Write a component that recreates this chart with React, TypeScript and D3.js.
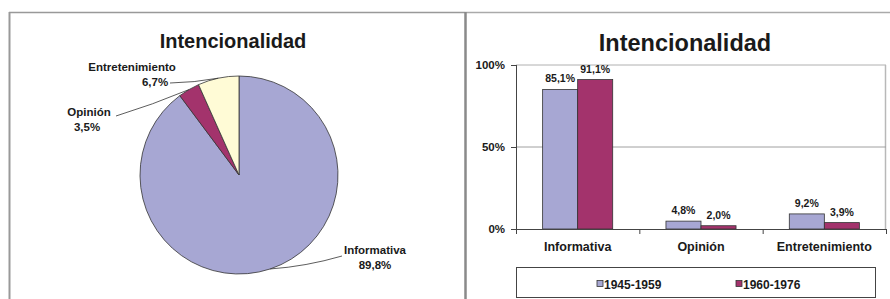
import React from 'react';
import * as d3 from 'd3';

const categories = ['Informativa', 'Opinión', 'Entretenimiento'];
const pieValues = [89.8, 3.5, 6.7];
const pieLabels = ['89,8%', '3,5%', '6,7%'];
const seriesNames = ['1945-1959', '1960-1976'];
const series1945 = [85.1, 4.8, 9.2];
const series1960 = [91.1, 2.0, 3.9];
const labels1945 = ['85,1%', '4,8%', '9,2%'];
const labels1960 = ['91,1%', '2,0%', '3,9%'];
const yTicks = [0, 50, 100];
const yTickLabels = ['0%', '50%', '100%'];

const C_LAV = '#A7A7D3';
const C_MAG = '#A3336C';
const C_CREAM = '#FFFBD6';
const pieColors = [C_LAV, C_MAG, C_CREAM];
const seriesColors = [C_LAV, C_MAG];
const FONT = '"Liberation Sans", Arial, sans-serif';
const TXT = '#1a1a1a';

export default function App() {
  // Pie
  const cx = 239, cy = 175, r = 99;
  const pie = d3.pie<number>().sort(null).value((d) => d);
  const arcs = pie(pieValues);
  const arc = d3.arc<d3.PieArcDatum<number>>().innerRadius(0).outerRadius(r);
  const edgeArc = d3.arc<d3.PieArcDatum<number>>().innerRadius(r).outerRadius(r);
  // label anchor offsets relative to pie center (name line, value line, line start)
  const labelSpecs = [
    { nx: 136, ny: 79, vx: 136, vy: 94, lx: 103, ly: 81, anchor: 'middle' },
    { nx: -150, ny: -59, vx: -152, vy: -44, lx: -123, ly: -59, anchor: 'middle' },
    { nx: -107, ny: -104, vx: -84, vy: -89, lx: -69, ly: -92, anchor: 'middle' },
  ];

  // Bars
  const x0 = d3.scaleBand<string>().domain(categories).range([516, 886]).paddingInner(0).paddingOuter(0);
  const x1 = d3.scaleBand<string>().domain(seriesNames).range([0, x0.bandwidth()]).paddingInner(0).paddingOuter(0.76);
  const y = d3.scaleLinear().domain([0, 100]).range([229, 65]);
  const seriesVals = [series1945, series1960];
  const seriesLbls = [labels1945, labels1960];
  const boundaries = [...categories.map((c) => x0(c) as number), x0.range()[1]];

  return (
    <svg width={890} height={299} style={{ position: 'absolute', left: 0, top: 0, background: '#fff' }} fontFamily={FONT}>
      <rect x={0} y={0} width={890} height={299} fill="#fff" />
      {/* Panel frames */}
      <line x1={9} y1={12.5} x2={465} y2={12.5} stroke="#999" strokeWidth={1.5} />
      <line x1={9.5} y1={12} x2={9.5} y2={299} stroke="#999" strokeWidth={2} />
      <line x1={465} y1={12.5} x2={890} y2={12.5} stroke="#aaa" strokeWidth={1.5} />
      <line x1={465.5} y1={12} x2={465.5} y2={299} stroke="#8a8a8a" strokeWidth={2.5} />

      {/* Left: pie */}
      <text x={233} y={48} textAnchor="middle" fontSize={20} fontWeight="bold" fill={TXT}>Intencionalidad</text>
      <g transform={`translate(${cx},${cy})`}>
        {arcs.map((a, i) => (
          <path key={i} d={arc(a) as string} fill={pieColors[i]} stroke="#333" strokeWidth={0.8} />
        ))}
        {arcs.map((a, i) => {
          const s = labelSpecs[i];
          const [ex, ey] = edgeArc.centroid(a);
          return (
            <g key={'l' + i}>
              <path d={`M${s.lx},${s.ly} Q${(s.lx + ex) / 2},${(s.ly + ey) / 2 + (i === 0 ? 4 : 2)} ${ex},${ey}`} fill="none" stroke="#333" strokeWidth={0.8} />
              <text x={s.nx} y={s.ny} textAnchor={s.anchor as any} fontSize={11.5} fontWeight="bold" fill={TXT}>{categories[i]}</text>
              <text x={s.vx} y={s.vy} textAnchor={s.anchor as any} fontSize={11.5} fontWeight="bold" fill={TXT}>{pieLabels[i]}</text>
            </g>
          );
        })}
      </g>

      {/* Right: bars */}
      <text x={685} y={51} textAnchor="middle" fontSize={23.5} fontWeight="bold" fill={TXT}>Intencionalidad</text>
      {/* plot frame */}
      <line x1={516} y1={y(100)} x2={886} y2={y(100)} stroke="#b0b0b0" strokeWidth={1} />
      <line x1={885.5} y1={y(100)} x2={885.5} y2={y(0)} stroke="#b8b8b8" strokeWidth={1.5} />
      <line x1={516} y1={y(50)} x2={886} y2={y(50)} stroke="#a0a0a0" strokeWidth={1} />
      {categories.map((c, ci) =>
        seriesNames.map((s, si) => {
          const v = seriesVals[si][ci];
          const bx = (x0(c) as number) + (x1(s) as number);
          return (
            <g key={c + s}>
              <rect x={bx} y={y(v)} width={x1.bandwidth()} height={y(0) - y(v)} fill={seriesColors[si]} stroke="#333" strokeWidth={0.8} />
              <text x={bx + x1.bandwidth() / 2} y={y(v) - 7} textAnchor="middle" fontSize={10.5} fontWeight="bold" fill={TXT}>{seriesLbls[si][ci]}</text>
            </g>
          );
        })
      )}
      {/* axes */}
      <line x1={516.5} y1={y(100)} x2={516.5} y2={y(0)} stroke="#444" strokeWidth={1} />
      <line x1={516} y1={y(0) + 0.5} x2={886} y2={y(0) + 0.5} stroke="#444" strokeWidth={1} />
      {yTicks.map((t, i) => (
        <g key={t}>
          <line x1={511} y1={y(t) + 0.5} x2={516} y2={y(t) + 0.5} stroke="#444" />
          <text x={505} y={y(t) + 4} textAnchor="end" fontSize={11.5} fontWeight="bold" fill={TXT}>{yTickLabels[i]}</text>
        </g>
      ))}
      {boundaries.map((b, i) => (
        <line key={i} x1={b + 0.5} y1={y(0)} x2={b + 0.5} y2={y(0) + 5} stroke="#444" />
      ))}
      {categories.map((c) => (
        <text key={c} x={(x0(c) as number) + x0.bandwidth() / 2} y={251} textAnchor="middle" fontSize={12.5} fontWeight="bold" fill={TXT}>{c}</text>
      ))}
      {/* legend */}
      <rect x={516.5} y={267.5} width={359} height={30} fill="#fff" stroke="#444" strokeWidth={1} />
      {seriesNames.map((s, i) => {
        const lx = i === 0 ? 597 : 736;
        return (
          <g key={s}>
            <rect x={lx} y={280.5} width={6} height={6} fill={seriesColors[i]} stroke="#333" strokeWidth={0.8} />
            <text x={lx + 7} y={289} fontSize={12} fontWeight="bold" fill={TXT}>{s}</text>
          </g>
        );
      })}
    </svg>
  );
}
